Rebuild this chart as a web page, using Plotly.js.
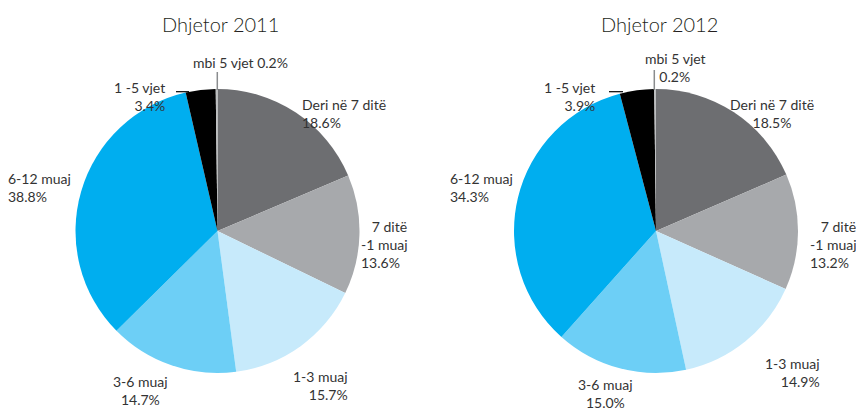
<!DOCTYPE html>
<html>
<head>
<meta charset="utf-8">
<script src="https://cdn.plot.ly/plotly-3.0.1.min.js"></script>
<style>html,body{margin:0;padding:0;background:#fff;}#chart{width:856px;height:410px;}</style>
</head>
<body>
<div id="chart"></div>
<script>
// ---- data ----
var titles = ["Dhjetor 2011", "Dhjetor 2012"];
var categories = ["Deri në 7 ditë", "7 ditë -1 muaj", "1-3 muaj", "3-6 muaj", "6-12 muaj", "1-5 vjet", "mbi 5 vjet"];
// slice sizes as drawn in the picture (%)
var values2011 = [18.6, 13.6, 15.7, 14.7, 33.8, 3.4, 0.2];
var values2012 = [18.5, 13.2, 14.9, 15.0, 34.3, 3.9, 0.2];
// percentages as printed on the labels
var printed2011 = [18.6, 13.6, 15.7, 14.7, 38.8, 3.4, 0.2];
var printed2012 = [18.5, 13.2, 14.9, 15.0, 34.3, 3.9, 0.2];
var colors = ["#6d6e71", "#a7a9ac", "#c7eafb", "#6dcff6", "#00aeef", "#000000", "#bcbec0"];

// ---- layout helpers ----
var W = 856, H = 410;
function px(x){ return x / W; }
function py(y){ return 1 - y / H; }
var R = 142;
var centers = [[217.5, 231], [656, 231]];

function fmt(v){ return v.toFixed(1) + "%"; }
function labelText(i, v, chart){
  var p = fmt(v);
  switch(i){
    case 0: return "Deri në 7 ditë<br>" + p;
    case 1: return "\u00a0\u00a0\u00a07 ditë<br>-1 muaj<br>" + p;
    case 2: return "1-3 muaj<br>" + p;
    case 3: return "3-6 muaj<br>" + p;
    case 4: return "6-12 muaj<br>" + p;
    case 5: return "1 -5 vjet<br>" + p;
    case 6: return chart === 0 ? "mbi 5 vjet " + p : "mbi 5 vjet<br>\u00a0\u00a0\u00a0\u00a0" + p;
  }
}
// label anchor positions in pixels [x, y, xanchor, align]
var labelPos = [
  [[300, 113, "left", "left"], [359, 244, "left", "left"], [350, 385, "right", "right"], [140, 390, "center", "center"], [6, 188, "left", "left"], [167, 96, "right", "right"], [191, 62, "left", "left"]],
  [[772, 113, "center", "center"], [808, 244, "left", "left"], [822, 372, "right", "right"], [605, 393, "center", "center"], [448, 188, "left", "left"], [597, 96, "right", "right"], [643, 67, "left", "left"]]
];

var data = [];
var annotations = [];
var allVals = [values2011, values2012];
var allPrinted = [printed2011, printed2012];
for (var c = 0; c < 2; c++){
  var cx = centers[c][0], cy = centers[c][1];
  data.push({
    type: "pie",
    labels: categories,
    values: allVals[c],
    sort: false,
    direction: "clockwise",
    rotation: 0,
    textinfo: "none",
    hoverinfo: "label+percent",
    marker: {colors: colors, line: {width: 0}},
    showlegend: false,
    domain: {x: [px(cx - R), px(cx + R)], y: [py(cy + R), py(cy - R)]}
  });
  annotations.push({
    text: titles[c], xref: "paper", yref: "paper",
    x: px(cx + 3), y: py(24), xanchor: "center", yanchor: "middle",
    showarrow: false, font: {size: 20, color: "#231f20", weight: 300}
  });
  for (var i = 0; i < categories.length; i++){
    var lp = labelPos[c][i];
    annotations.push({
      text: labelText(i, allPrinted[c][i], c), xref: "paper", yref: "paper",
      x: px(lp[0]), y: py(lp[1]), xanchor: lp[2], yanchor: "middle", align: lp[3],
      showarrow: false, font: {size: 14, color: "#333333", weight: 400}
    });
  }
}

var shapes = [
  {type: "line", xref: "paper", yref: "paper", x0: px(217.3), x1: px(217.3), y0: py(72), y1: py(90), line: {color: "#8a8c8e", width: 1.5}},
  {type: "line", xref: "paper", yref: "paper", x0: px(176), x1: px(189), y0: py(91.7), y1: py(91.7), line: {color: "#000", width: 1.2}},
  {type: "line", xref: "paper", yref: "paper", x0: px(654.3), x1: px(654.3), y0: py(70), y1: py(90), line: {color: "#8a8c8e", width: 1.5}},
  {type: "line", xref: "paper", yref: "paper", x0: px(609), x1: px(623), y0: py(91.7), y1: py(91.7), line: {color: "#000", width: 1.2}}
];

var layout = {
  width: W, height: H,
  margin: {l: 0, r: 0, t: 0, b: 0},
  paper_bgcolor: "#fff",
  font: {family: "Lato, 'Noto Sans', sans-serif", color: "#333333"},
  annotations: annotations,
  shapes: shapes
};
Plotly.newPlot("chart", data, layout, {displayModeBar: false, staticPlot: true});
</script>
</body>
</html>
